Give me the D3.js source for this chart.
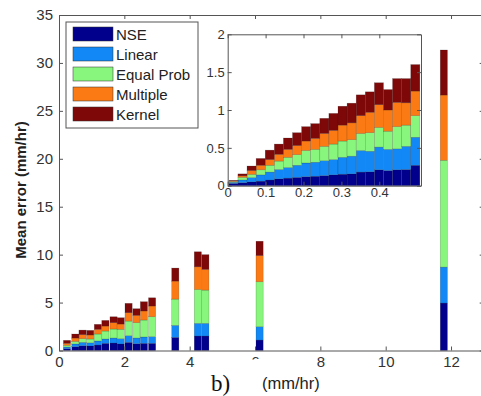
<!DOCTYPE html>
<html>
<head>
<meta charset="utf-8">
<script src="https://cdn.jsdelivr.net/npm/d3@7"></script>
<style>
  html, body { margin: 0; padding: 0; background: #fff; }
  svg { display: block; font-family: "Liberation Sans", Arial, sans-serif; }
  .tick text { fill: #333; }
  .domain, .tick line { stroke: #555; }
</style>
</head>
<body>
<svg id="chart" width="481" height="396"></svg>
<script>
// Series names and colours (stack order, bottom to top)
const seriesNames = ["NSE", "Linear", "Equal Prob", "Multiple", "Kernel"];
const seriesColors = ["#00008c", "#1188f5", "#88f57c", "#fb7a14", "#7e0808"];

// Main panel: rainfall rate (mm/hr) of each bar and the stacked error parts
const mainRate     = [0.245, 0.50, 0.72, 0.955, 1.19, 1.42, 1.67, 1.89, 2.13, 2.37, 2.60, 2.85, 3.56, 4.25, 4.48, 6.14, 11.78];
const mainNSE      = [0.19, 0.40, 0.50, 0.47, 0.57, 0.75, 0.78, 0.68, 0.85, 0.71, 0.75, 0.75, 1.37, 1.51, 1.51, 1.09, 4.95];
const mainLinear   = [0.17, 0.28, 0.35, 0.33, 0.42, 0.45, 0.52, 0.55, 0.69, 0.59, 0.66, 0.69, 1.25, 1.32, 1.32, 1.39, 3.75];
const mainEqual    = [0.18, 0.27, 0.38, 0.40, 0.73, 0.83, 0.94, 0.98, 1.53, 1.60, 1.77, 2.08, 2.74, 3.54, 3.47, 4.69, 11.15];
const mainMultiple = [0.21, 0.35, 0.42, 0.42, 0.49, 0.52, 0.66, 0.55, 0.87, 0.76, 0.94, 1.12, 1.88, 2.36, 2.16, 2.73, 6.80];
const mainKernel   = [0.31, 0.42, 0.48, 0.48, 0.52, 0.59, 0.62, 0.66, 0.98, 0.70, 0.97, 0.86, 1.36, 1.57, 1.54, 1.50, 4.70];

// Inset panel: low rates 0 - 0.5 mm/hr
const insetRate     = [0.0155, 0.039, 0.063, 0.087, 0.111, 0.135, 0.159, 0.183, 0.207, 0.231, 0.255, 0.279, 0.303, 0.327, 0.351, 0.375, 0.399, 0.423, 0.447, 0.471, 0.495];
const insetNSE      = [0.030, 0.040, 0.050, 0.060, 0.075, 0.090, 0.100, 0.110, 0.120, 0.125, 0.134, 0.143, 0.152, 0.156, 0.180, 0.183, 0.210, 0.200, 0.210, 0.214, 0.270];
const insetLinear   = [0.015, 0.036, 0.057, 0.083, 0.105, 0.124, 0.140, 0.160, 0.180, 0.185, 0.196, 0.202, 0.223, 0.234, 0.285, 0.272, 0.300, 0.280, 0.277, 0.306, 0.370];
const insetEqual    = [0.010, 0.034, 0.043, 0.067, 0.090, 0.111, 0.135, 0.140, 0.165, 0.170, 0.190, 0.205, 0.215, 0.217, 0.225, 0.245, 0.260, 0.240, 0.293, 0.280, 0.285];
const insetMultiple = [0.007, 0.020, 0.050, 0.060, 0.075, 0.090, 0.105, 0.120, 0.125, 0.145, 0.170, 0.180, 0.210, 0.223, 0.235, 0.270, 0.300, 0.280, 0.320, 0.295, 0.325];
const insetKernel   = [0.008, 0.026, 0.060, 0.090, 0.125, 0.135, 0.150, 0.170, 0.190, 0.195, 0.200, 0.225, 0.250, 0.260, 0.275, 0.270, 0.290, 0.270, 0.315, 0.320, 0.350];

// Tick labels
const mainXTicks = [0, 2, 4, 6, 8, 10, 12];
const mainYTicks = [0, 5, 10, 15, 20, 25, 30, 35];
const insetXTicks = [0, 0.1, 0.2, 0.3, 0.4];
const insetYTicks = [0, 0.5, 1, 1.5, 2];

function toRows(rate, parts) {
  return rate.map((r, i) => {
    const row = { rate: r };
    seriesNames.forEach((k, j) => { row[k] = parts[j][i]; });
    return row;
  });
}
const mainRows = toRows(mainRate, [mainNSE, mainLinear, mainEqual, mainMultiple, mainKernel]);
const insetRows = toRows(insetRate, [insetNSE, insetLinear, insetEqual, insetMultiple, insetKernel]);

const svg = d3.select("#chart");
const color = d3.scaleOrdinal().domain(seriesNames).range(seriesColors);
const stack = d3.stack().keys(seriesNames);

function drawPanel(g, rows, x, y, barW, xTicks, yTicks, fontSize, pads) {
  const layers = stack(rows);
  g.selectAll("g.layer").data(layers).join("g")
    .attr("class", "layer")
    .attr("fill", d => color(d.key))
    .selectAll("rect").data(d => d).join("rect")
      .attr("x", d => x(d.data.rate - barW / 2))
      .attr("width", d => x(d.data.rate + barW / 2) - x(d.data.rate - barW / 2))
      .attr("y", d => y(d[1]))
      .attr("height", d => y(d[0]) - y(d[1]))
      .attr("stroke", "#222").attr("stroke-opacity", 0.35).attr("stroke-width", 0.5);

  const [x0, x1] = x.range();
  const [y0, y1] = y.range();
  const fmt = d3.format("~g");

  g.append("g").attr("transform", `translate(0,${y0})`)
    .call(d3.axisBottom(x).tickValues(xTicks).tickSizeInner(-4).tickSizeOuter(0).tickPadding(pads[0]).tickFormat(fmt))
    .call(a => a.selectAll("text").attr("font-size", fontSize).attr("font-family", "Liberation Sans, Arial, sans-serif"));
  g.append("g").attr("transform", `translate(${x0},0)`)
    .call(d3.axisLeft(y).tickValues(yTicks).tickSizeInner(-4).tickSizeOuter(0).tickPadding(pads[1]).tickFormat(fmt))
    .call(a => a.selectAll("text").attr("font-size", fontSize).attr("font-family", "Liberation Sans, Arial, sans-serif"));
  g.append("g").attr("transform", `translate(0,${y1})`)
    .call(d3.axisTop(x).tickValues(xTicks).tickSizeInner(-4).tickSizeOuter(0).tickFormat(""));
  g.append("g").attr("transform", `translate(${x1},0)`)
    .call(d3.axisRight(y).tickValues(yTicks).tickSizeInner(-4).tickSizeOuter(0).tickFormat(""));
}

// ---- main axes ----
const xMain = d3.scaleLinear().domain([0, 13]).range([59, 483.7]);
const yMain = d3.scaleLinear().domain([0, 35]).range([350.5, 15]);
const gMain = svg.append("g");
drawPanel(gMain, mainRows, xMain, yMain, 0.22, mainXTicks, mainYTicks, 15, [6, 6]);

// y axis title
svg.append("text")
  .attr("transform", "translate(26,190) rotate(-90)")
  .attr("text-anchor", "middle")
  .attr("font-size", 15).attr("font-weight", "bold").attr("fill", "#222")
  .text("Mean error (mm/hr)");

// ---- legend ----
const legend = svg.append("g");
legend.append("rect").attr("x", 66).attr("y", 22).attr("width", 132).attr("height", 106)
  .attr("fill", "#fff").attr("stroke", "#555").attr("stroke-width", 1);
seriesNames.forEach((name, i) => {
  const ry = 27 + i * 20;
  legend.append("rect").attr("x", 73).attr("y", ry).attr("width", 40).attr("height", 14)
    .attr("fill", color(name)).attr("stroke", "#333").attr("stroke-width", 0.5);
  legend.append("text").attr("x", 116).attr("y", ry + 12.5)
    .attr("font-size", 15).attr("fill", "#222").text(name);
});

// ---- inset axes ----
const xIn = d3.scaleLinear().domain([0, 0.51]).range([227.7, 421]);
const yIn = d3.scaleLinear().domain([0, 2]).range([185.7, 34.3]);
const gIn = svg.append("g");
gIn.append("rect").attr("x", 227.7).attr("y", 34.3).attr("width", 421 - 227.7).attr("height", 185.7 - 34.3)
  .attr("fill", "#fff");
drawPanel(gIn, insetRows, xIn, yIn, 0.024, insetXTicks, insetYTicks, 13, [2, 3]);

// ---- caption strip under the main axis ----
svg.append("rect").attr("x", 206).attr("y", 359.5).attr("width", 104).attr("height", 37).attr("fill", "#fff");
svg.append("text").attr("x", 211).attr("y", 391)
  .attr("font-family", "Liberation Serif, Times New Roman, serif").attr("font-size", 23).attr("fill", "#111")
  .text("b)");
svg.append("text").attr("x", 262).attr("y", 389)
  .attr("font-size", 16.5).attr("fill", "#222")
  .text("(mm/hr)");
</script>
</body>
</html>
